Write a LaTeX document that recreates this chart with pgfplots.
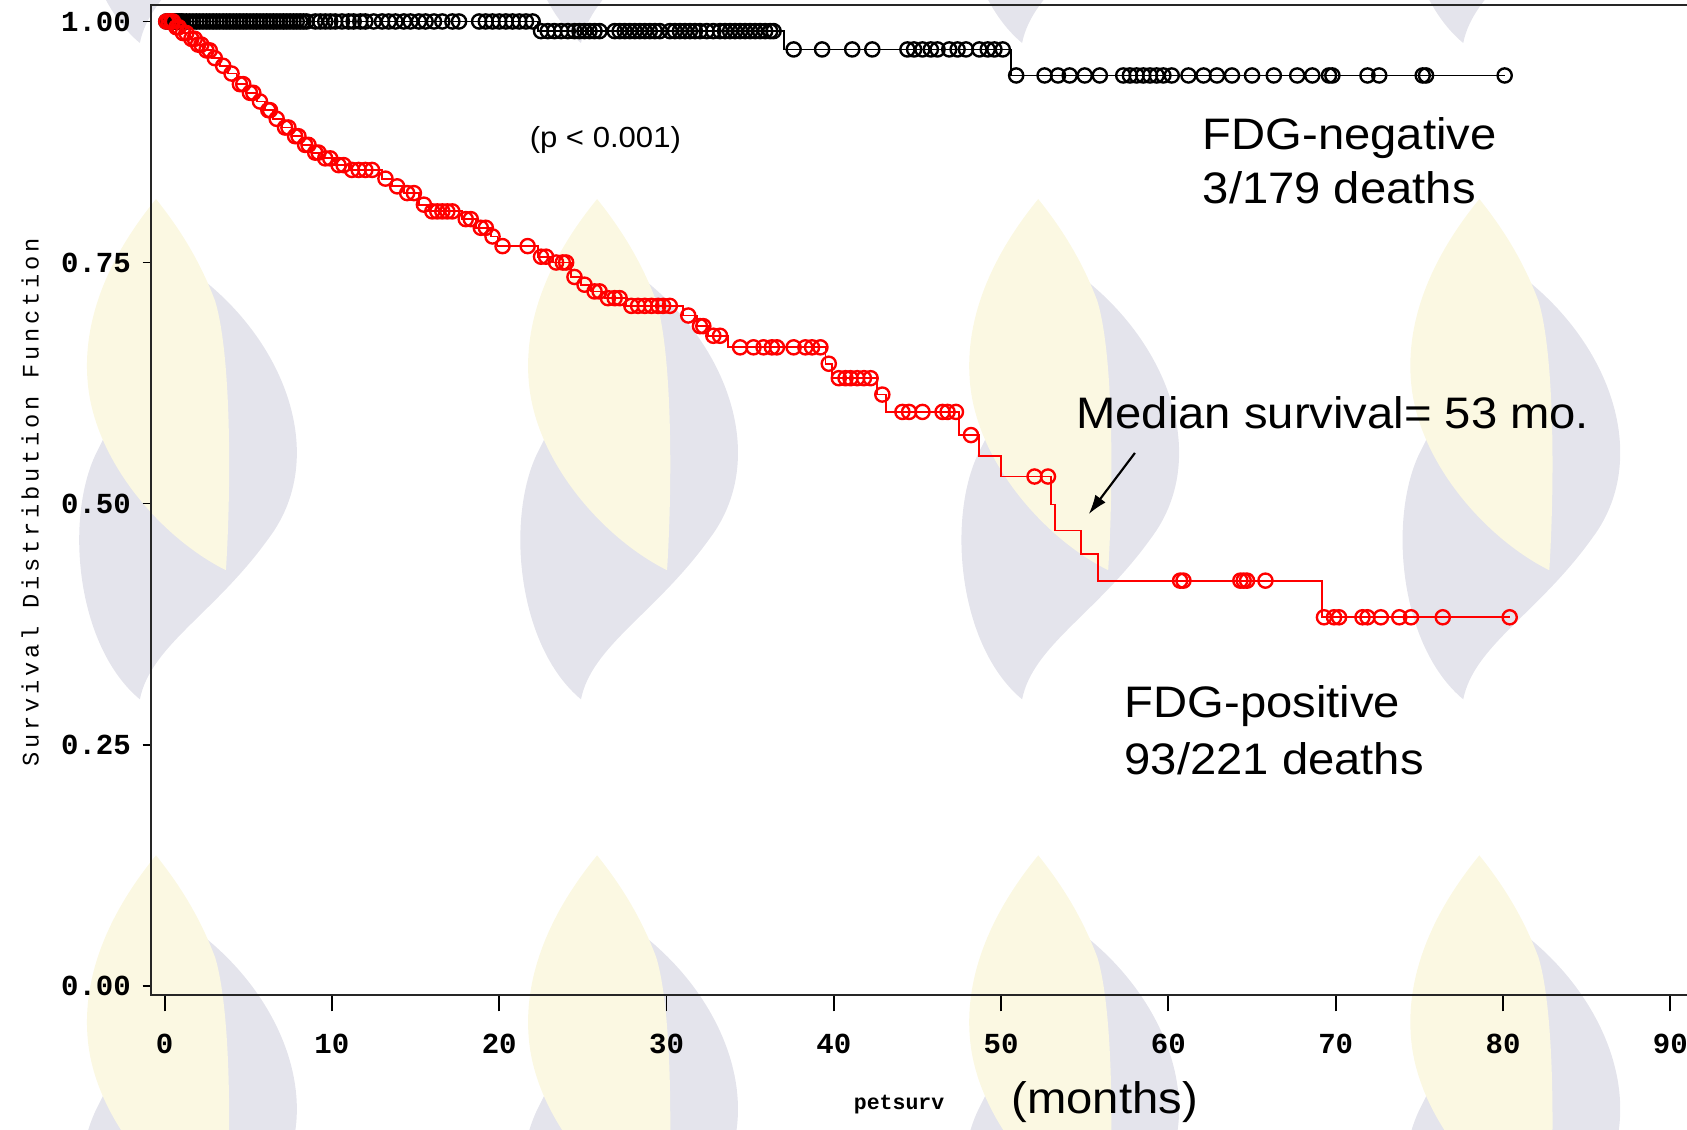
\documentclass[border=0pt]{standalone}
\usepackage{pgfplots}
\pgfplotsset{compat=1.18}
\usepackage{fontspec}
\setmainfont{Liberation Sans}
\newfontfamily\sasfont{Liberation Mono}
\newfontfamily\saslabel[LetterSpace=16]{Liberation Mono}
\newfontfamily\annfont[FakeStretch=1.07]{Liberation Sans}
\usetikzlibrary{arrows.meta}
\definecolor{wmgrey}{RGB}{228,228,236}
\definecolor{wmyellow}{RGB}{251,248,226}

\pgfplotstableread{
t s
0 1.000
0.6 0.994
1.0 0.988
1.5 0.982
1.9 0.976
2.3 0.970
2.8 0.962
3.3 0.954
3.8 0.946
4.3 0.935
4.9 0.926
5.5 0.917
6.0 0.908
6.5 0.899
7.0 0.890
7.6 0.881
8.2 0.872
8.8 0.864
9.4 0.858
10.2 0.851
11.0 0.846
13.0 0.837
13.6 0.829
14.3 0.822
15.2 0.810
15.8 0.803
17.8 0.795
18.6 0.786
19.5 0.777
19.9 0.767
22.3 0.756
23.2 0.750
24.3 0.735
24.9 0.727
25.5 0.720
26.3 0.713
27.6 0.705
31.0 0.695
31.8 0.684
32.5 0.674
33.7 0.662
39.5 0.645
39.9 0.630
42.6 0.613
43.1 0.595
47.5 0.571
48.7 0.549
50.0 0.528
53.0 0.499
53.2 0.472
54.8 0.448
55.8 0.420
69.2 0.382
80.4 0.382
}\poscurve

\pgfplotstableread{
t s
0.1 1.000
0.25 1.000
0.4 1.000
0.5 1.000
0.7 0.994
0.85 0.994
1.1 0.988
1.3 0.988
1.6 0.982
1.8 0.982
2.0 0.976
2.2 0.976
2.5 0.970
2.7 0.970
3.0 0.962
3.5 0.954
4.0 0.946
4.5 0.935
4.7 0.935
5.1 0.926
5.3 0.926
5.7 0.917
6.2 0.908
6.3 0.908
6.7 0.899
7.2 0.890
7.4 0.890
7.8 0.881
8.0 0.881
8.4 0.872
8.6 0.872
9.0 0.864
9.2 0.864
9.6 0.858
9.9 0.858
10.4 0.851
10.7 0.851
11.2 0.846
11.6 0.846
12.0 0.846
12.4 0.846
13.2 0.837
13.9 0.829
14.5 0.822
14.9 0.822
15.5 0.810
16.0 0.803
16.3 0.803
16.6 0.803
16.9 0.803
17.2 0.803
18.0 0.795
18.3 0.795
18.9 0.786
19.2 0.786
19.6 0.777
20.2 0.767
21.7 0.767
22.5 0.756
22.8 0.756
23.4 0.750
23.8 0.750
24.0 0.750
24.5 0.735
25.1 0.727
25.7 0.720
26.0 0.720
26.5 0.713
26.9 0.713
27.2 0.713
27.9 0.705
28.3 0.705
28.7 0.705
29.1 0.705
29.5 0.705
29.8 0.705
30.2 0.705
31.3 0.695
32.0 0.684
32.2 0.684
32.8 0.674
33.2 0.674
34.4 0.662
35.2 0.662
35.8 0.662
36.3 0.662
36.6 0.662
37.6 0.662
38.3 0.662
38.7 0.662
39.2 0.662
39.7 0.645
40.3 0.630
40.7 0.630
41.0 0.630
41.4 0.630
41.8 0.630
42.2 0.630
42.9 0.613
44.1 0.595
44.5 0.595
45.3 0.595
46.5 0.595
46.8 0.595
47.3 0.595
48.2 0.571
52.0 0.528
52.8 0.528
60.7 0.420
60.9 0.420
64.3 0.420
64.5 0.420
64.7 0.420
65.8 0.420
69.3 0.382
69.9 0.382
70.2 0.382
71.6 0.382
71.9 0.382
72.7 0.382
73.8 0.382
74.5 0.382
76.4 0.382
80.4 0.382
}\posmarks

\pgfplotstableread{
t s
0 1.000
22.3 0.990
37.0 0.971
50.6 0.944
80.1 0.944
}\negcurve

\pgfplotstableread{
t s
0.1 1.0
0.2 1.0
0.3 1.0
0.4 1.0
0.5 1.0
0.6 1.0
0.7 1.0
0.8 1.0
0.9 1.0
1.0 1.0
1.1 1.0
1.3 1.0
1.5 1.0
1.7 1.0
1.9 1.0
2.1 1.0
2.3 1.0
2.5 1.0
2.7 1.0
2.9 1.0
3.1 1.0
3.3 1.0
3.5 1.0
3.7 1.0
3.9 1.0
4.1 1.0
4.3 1.0
4.5 1.0
4.7 1.0
4.9 1.0
5.1 1.0
5.3 1.0
5.5 1.0
5.7 1.0
5.9 1.0
6.1 1.0
6.3 1.0
6.5 1.0
6.7 1.0
6.9 1.0
7.1 1.0
7.3 1.0
7.5 1.0
7.7 1.0
7.9 1.0
8.1 1.0
8.3 1.0
8.5 1.0
9.0 1.0
9.3 1.0
9.6 1.0
9.9 1.0
10.2 1.0
10.6 1.0
11.0 1.0
11.3 1.0
11.7 1.0
12.0 1.0
12.5 1.0
13.0 1.0
13.4 1.0
13.8 1.0
14.3 1.0
14.7 1.0
15.2 1.0
15.6 1.0
16.1 1.0
16.6 1.0
17.2 1.0
17.6 1.0
18.8 1.0
19.2 1.0
19.6 1.0
20.0 1.0
20.4 1.0
20.8 1.0
21.2 1.0
21.6 1.0
22.0 1.0
22.5 0.990
22.9 0.990
23.3 0.990
23.7 0.990
24.1 0.990
24.5 0.990
24.8 0.990
25.1 0.990
25.4 0.990
25.7 0.990
26.0 0.990
26.9 0.990
27.2 0.990
27.5 0.990
27.8 0.990
28.1 0.990
28.4 0.990
28.7 0.990
29.0 0.990
29.3 0.990
29.6 0.990
30.2 0.990
30.5 0.990
30.8 0.990
31.1 0.990
31.4 0.990
31.7 0.990
32.0 0.990
32.4 0.990
32.8 0.990
33.2 0.990
33.5 0.990
33.8 0.990
34.1 0.990
34.4 0.990
34.7 0.990
35.0 0.990
35.3 0.990
35.6 0.990
35.9 0.990
36.2 0.990
36.4 0.990
37.6 0.971
39.3 0.971
41.1 0.971
42.3 0.971
44.4 0.971
44.8 0.971
45.3 0.971
45.8 0.971
46.2 0.971
46.9 0.971
47.4 0.971
47.9 0.971
48.7 0.971
49.2 0.971
49.6 0.971
50.1 0.971
50.9 0.944
52.6 0.944
53.4 0.944
54.1 0.944
55.0 0.944
55.9 0.944
57.3 0.944
57.7 0.944
58.1 0.944
58.5 0.944
58.9 0.944
59.3 0.944
59.7 0.944
60.2 0.944
61.2 0.944
62.1 0.944
62.9 0.944
63.8 0.944
65.0 0.944
66.3 0.944
67.7 0.944
68.6 0.944
69.6 0.944
69.8 0.944
71.9 0.944
72.6 0.944
75.2 0.944
75.4 0.944
80.1 0.944
}\negmarks

\begin{document}
\begin{tikzpicture}
% faint watermark logos of the slide background (display-pixel coordinates)
\begin{scope}[shift={(-70pt,462.5pt)}, x=0.5pt, y=-0.5pt]
\foreach \dx in {0,410,820,1230}{
  \foreach \dy in {-610,0,610}{
    \begin{scope}[shift={(\dx,\dy)}]
      \fill[wmgrey] (160,240) .. controls (260,300) and (310,420) .. (250,500)
         .. controls (200,570) and (140,600) .. (130,650)
         .. controls (70,600) and (60,480) .. (90,420)
         .. controls (120,360) and (150,300) .. (160,240) -- cycle;
      \fill[wmyellow] (145,185) .. controls (100,240) and (75,300) .. (82,360)
         .. controls (90,430) and (150,500) .. (210,530)
         .. controls (215,450) and (215,330) .. (200,280)
         .. controls (185,240) and (165,210) .. (145,185) -- cycle;
    \end{scope}
  }
}
\end{scope}
\begin{axis}[
  at={(0pt,0pt)}, anchor=south west,
  scale only axis, width=717.9pt, height=460pt,
  xmin=-0.836, xmax=91.5, ymin=-0.01, ymax=1.0167,
  clip=false,
  axis line style={line width=1pt, black!85},
  xtick={0,10,20,30,40,50,60,70,80,90},
  xticklabels={0,10,20,30,40,50,60,70,80,90},
  ytick={0,0.25,0.5,0.75,1},
  yticklabels={0.00,0.25,0.50,0.75,1.00},
  tick align=outside, xtick pos=bottom, ytick pos=left,
  major tick length=7.5pt,
  ytick style={/pgfplots/major tick length=3.75pt},
  tick style={line width=0.9pt, black},
  xticklabel style={font=\sasfont\bfseries\fontsize{13.5pt}{14pt}\selectfont, anchor=center, yshift=-15pt},
  yticklabel style={font=\sasfont\bfseries\fontsize{13.5pt}{14pt}\selectfont, anchor=east, inner sep=0pt, xshift=-1.5pt},
]
\addplot[const plot, black, line width=0.85pt, no marks] table[x=t, y=s] {\negcurve};
\addplot[only marks, mark=o, mark size=3.3pt, black, mark options={line width=1.1pt}] table[x=t, y=s] {\negmarks};
\addplot[const plot, red, line width=0.85pt, no marks] table[x=t, y=s] {\poscurve};
\addplot[only marks, mark=o, mark size=3.3pt, red, mark options={line width=1.1pt}] table[x=t, y=s] {\posmarks};

\node[rotate=90, font=\saslabel\fontsize{11pt}{12pt}\selectfont] at (axis cs:-8.04,0.501) {Survival Distribution Function};
\node[font=\sasfont\bfseries\fontsize{10pt}{12pt}\selectfont] at (axis cs:43.9,-0.123) {petsurv};
\node[anchor=base west, inner sep=0pt, font=\annfont\fontsize{20.5pt}{24pt}\selectfont] at (axis cs:50.6,-0.133) {(months)};
\node[anchor=base west, inner sep=0pt, font=\annfont\fontsize{13.5pt}{16pt}\selectfont] at (axis cs:21.8,0.869) {(p < 0.001)};
\node[anchor=base west, inner sep=0pt, font=\annfont\fontsize{20.5pt}{24pt}\selectfont] at (axis cs:62.03,0.8667) {FDG-negative};
\node[anchor=base west, inner sep=0pt, font=\annfont\fontsize{20.5pt}{24pt}\selectfont] at (axis cs:62.03,0.8107) {3/179 deaths};
\node[anchor=base west, inner sep=0pt, font=\annfont\fontsize{20.5pt}{24pt}\selectfont] at (axis cs:54.47,0.578) {Median survival= 53 mo.};
\node[anchor=base west, inner sep=0pt, font=\annfont\fontsize{20.5pt}{24pt}\selectfont] at (axis cs:57.36,0.2785) {FDG-positive};
\node[anchor=base west, inner sep=0pt, font=\annfont\fontsize{20.5pt}{24pt}\selectfont] at (axis cs:57.36,0.2188) {93/221 deaths};
\draw[-{Latex[length=9pt,width=6pt]}, line width=1pt, black] (axis cs:58.0,0.5525) -- (axis cs:55.24,0.489);
\end{axis}
\pgfresetboundingbox
\path[use as bounding box] (-70pt,-62.5pt) rectangle (714pt,462.5pt);
\end{tikzpicture}
\end{document}
